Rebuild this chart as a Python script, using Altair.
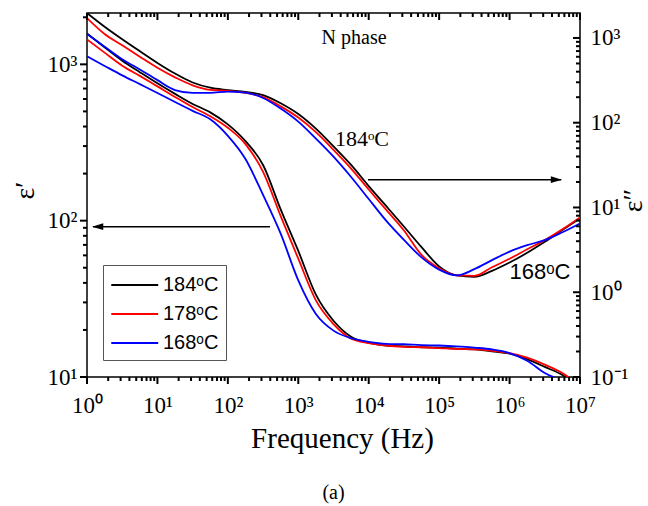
import altair as alt
import pandas as pd

# Sample frequencies, as log10(f / Hz)
log_freq = [0.0, 0.25, 0.5, 0.75, 1.0, 1.25, 1.5, 1.75, 2.0, 2.25, 2.5, 2.75, 3.0, 3.25,
            3.5, 3.75, 4.0, 4.25, 4.5, 4.75, 5.0, 5.25, 5.5, 5.75, 6.0, 6.25, 6.5, 6.75, 7.0]

temps = ["184ᵒC", "178ᵒC", "168ᵒC"]
colors = ["#000000", "#ff0000", "#0000ff"]

# Real part of the permittivity (left axis)
eps1_184 = [1575, 1285, 1054, 891, 756, 647, 558, 493, 413, 323, 227, 118, 64, 33.6, 22.9,
            18.1, 16.6, 15.9, 15.7, 15.5, 15.4, 15.2, 15.0, 14.6, 14.1, 13.0, 11.6, 10.3, 8.5]
eps1_178 = [1443, 1188, 981, 844, 723, 619, 533, 466, 393, 309, 205, 107, 57.1, 30.9, 21.8,
            17.6, 16.5, 15.9, 15.6, 15.5, 15.3, 15.1, 15.0, 14.7, 14.2, 13.3, 12.0, 10.6, 8.8]
eps1_168 = [1125, 977, 850, 747, 656, 574, 504, 445, 349, 248, 146, 82.6, 41.5, 25.3, 19.8,
            17.7, 16.8, 16.3, 16.2, 16.0, 15.9, 15.7, 15.4, 15.0, 14.2, 12.7, 10.6, 9.4, 8.0]

# Imaginary part of the permittivity (right axis)
eps2_184 = [1968, 1358, 966, 698, 508, 380, 298, 259, 243, 231, 212, 170, 127, 85.3, 52.6,
            31.8, 17.9, 10.35, 5.96, 3.40, 2.02, 1.58, 1.52, 1.79, 2.24, 2.92, 3.94, 5.41, 7.43]
eps2_178 = [1718, 1114, 818, 601, 445, 343, 276, 244, 238, 225, 200, 156, 115, 77.3, 47.9,
            28.8, 16.3, 9.35, 5.36, 2.76, 1.92, 1.58, 1.56, 1.97, 2.48, 3.21, 4.12, 5.52, 7.63]
eps2_168 = [1114, 788, 561, 425, 318, 243, 225, 225, 233, 227, 196, 147, 103, 65, 39.8,
            22.9, 12.6, 6.95, 4.15, 2.58, 1.85, 1.58, 1.87, 2.39, 3.02, 3.59, 4.13, 5.11, 6.48]

SERIF = "Liberation Serif"
SANS = "Liberation Sans"

rows = []
for t, e1, e2 in zip(temps, [eps1_184, eps1_178, eps1_168], [eps2_184, eps2_178, eps2_168]):
    for i, lf in enumerate(log_freq):
        rows.append({"freq": 10 ** lf, "temp": t, "order": temps.index(t), "eps1": e1[i], "eps2": e2[i]})
df = pd.DataFrame(rows)

# Axis ranges
X_MIN, X_MAX = 1, 1e7
Y1_MIN, Y1_MAX = 10, 2130
Y2_MIN, Y2_MAX = 0.1, 1970

# Tick positions
x_major = [10 ** k for k in range(0, 8)]
x_minor = [m * 10 ** k for k in range(0, 7) for m in range(2, 10)]
y1_major = [10, 100, 1000]
y1_minor = [m * 10 ** k for k in (1, 2, 3) for m in range(2, 10) if m * 10 ** k <= Y1_MAX]
y2_major = [0.1, 1, 10, 100, 1000]
y2_minor = [round(m * 10.0 ** k, 6) for k in (-1, 0, 1, 2, 3) for m in range(2, 10) if m * 10.0 ** k <= Y2_MAX]

label_expr = "'10' + ['⁻¹','⁰','¹','²','³','⁴','⁵','⁶','⁷'][round(log(datum.value)/LN10)+1]"

xs = alt.Scale(type="log", domain=[X_MIN, X_MAX], nice=False)
y1s = alt.Scale(type="log", domain=[Y1_MIN, Y1_MAX], nice=False)
y2s = alt.Scale(type="log", domain=[Y2_MIN, Y2_MAX], nice=False)

W, H = 493, 364
# symbol area giving a tick of 7 px (major) or 4 px (minor)
MAJ_SIZE, MIN_SIZE = (2 * 7) ** 2, (2 * 4) ** 2

color = alt.Color(
    "temp:N",
    scale=alt.Scale(domain=temps, range=colors),
    legend=alt.Legend(
        title=None, orient="none", legendX=16, legendY=252,
        symbolType="M-1,0H3", symbolSize=550, symbolStrokeWidth=2,
        labelFont=SANS, labelFontSize=20, labelColor="black", labelOffset=27,
        strokeColor="#555555", fillColor="white", padding=7, rowPadding=6,
        cornerRadius=0,
    ),
)

line_style = dict(strokeWidth=1.8, clip=True, interpolate="monotone")
axis_style = dict(domain=False, tickColor="transparent", grid=False)

# Real part, with the labelled bottom and left axes
eps1_lines = alt.Chart(df).mark_line(**line_style).encode(
    x=alt.X("freq:Q", scale=xs, axis=alt.Axis(
        orient="bottom", values=x_major, tickSize=7, labelExpr=label_expr,
        labelFontSize=23, labelPadding=10, labelFlush=False, labelOverlap=False,
        title="Frequency (Hz)", titleFontSize=29, titleX=255, titleY=70,
        titleBaseline="alphabetic", titleAlign="center", **axis_style)),
    y=alt.Y("eps1:Q", scale=y1s, axis=alt.Axis(
        orient="left", values=y1_major, tickSize=7, labelExpr=label_expr,
        labelFontSize=23, labelPadding=3, labelFlush=False, labelOverlap=False,
        title="ε′", titleFontSize=28, titleAngle=270, titleX=-62, titleY=177,
        titleAlign="center", titleBaseline="middle", **axis_style)),
    color=color,
    order="order:Q",
)

# Imaginary part, with the labelled right axis
eps2_lines = alt.Chart(df).mark_line(**line_style).encode(
    x=alt.X("freq:Q", scale=xs, axis=None),
    y=alt.Y("eps2:Q", scale=y2s, axis=alt.Axis(
        orient="right", values=y2_major, tickSize=7, offset=-7, labelExpr=label_expr,
        labelFontSize=23, labelPadding=10, labelFlush=False, labelOverlap=False,
        title="ε″", titleFontSize=28, titleAngle=270, titleX=60, titleY=187,
        titleAlign="center", titleBaseline="middle", **axis_style)),
    color=alt.Color("temp:N", scale=alt.Scale(domain=temps, range=colors), legend=None),
    order="order:Q",
)


# Tick marks drawn as short stroked symbols anchored on the frame:
# outward on bottom/left, inward on top/right
def tick_table(major, minor, edge):
    vals = list(major) + list(minor)
    sizes = [MAJ_SIZE] * len(major) + [MIN_SIZE] * len(minor)
    return pd.DataFrame({"v": vals, "edge": [edge] * len(vals), "s": sizes})


xt_bottom = tick_table(x_major, x_minor, Y1_MIN)
xt_top = tick_table(x_major, x_minor, Y1_MAX)
yt_left = tick_table(y1_major, y1_minor, X_MIN)
yt_right = tick_table(y2_major, y2_minor, X_MAX)

DOWN = "M0,0L0,1"
LEFT = "M0,0L-1,0"
tick_mark = dict(filled=False, color="black", strokeWidth=2, opacity=1)

ticks_bottom = alt.Chart(xt_bottom).mark_point(shape=DOWN, **tick_mark).encode(
    x=alt.X("v:Q", scale=xs, axis=None),
    y=alt.Y("edge:Q", scale=y1s, axis=None),
    size=alt.Size("s:Q", scale=None, legend=None),
)
ticks_top = alt.Chart(xt_top).mark_point(shape=DOWN, **tick_mark).encode(
    x=alt.X("v:Q", scale=xs, axis=None),
    y=alt.Y("edge:Q", scale=y1s, axis=None),
    size=alt.Size("s:Q", scale=None, legend=None),
)
ticks_left = alt.Chart(yt_left).mark_point(shape=LEFT, **tick_mark).encode(
    x=alt.X("edge:Q", scale=xs, axis=None),
    y=alt.Y("v:Q", scale=y1s, axis=None),
    size=alt.Size("s:Q", scale=None, legend=None),
)
ticks_right = alt.Chart(yt_right).mark_point(shape=LEFT, **tick_mark).encode(
    x=alt.X("edge:Q", scale=xs, axis=None),
    y=alt.Y("v:Q", scale=y2s, axis=None),
    size=alt.Size("s:Q", scale=None, legend=None),
)

# Annotations
notes_left = pd.DataFrame({"freq": [6200], "val": [1466], "text": ["N phase"]})
note_phase = alt.Chart(notes_left).mark_text(font=SERIF, fontSize=20, color="black").encode(
    x=alt.X("freq:Q", scale=xs, axis=None),
    y=alt.Y("val:Q", scale=y1s, axis=None),
    text="text:N",
)

notes_serif = pd.DataFrame({"freq": [8030], "val": [64.9], "text": ["184ᵒC"]})
note_184 = alt.Chart(notes_serif).mark_text(font=SERIF, fontSize=22, color="black").encode(
    x=alt.X("freq:Q", scale=xs, axis=None),
    y=alt.Y("val:Q", scale=y2s, axis=None),
    text="text:N",
)

notes_sans = pd.DataFrame({"freq": [2.7e6], "val": [1.72], "text": ["168ᵒC"]})
note_168 = alt.Chart(notes_sans).mark_text(font=SANS, fontSize=22, color="black").encode(
    x=alt.X("freq:Q", scale=xs, axis=None),
    y=alt.Y("val:Q", scale=y2s, axis=None),
    text="text:N",
)

# Arrows pointing to the axis each family belongs to
arrow_l = pd.DataFrame({"x1": [1.22], "x2": [396], "tip": [1.18], "val": [91.6]})
arrow_r = pd.DataFrame({"x1": [9770], "x2": [5.4e6], "tip": [5.55e6], "val": [21.3]})

shaft_l = alt.Chart(arrow_l).mark_rule(color="black", strokeWidth=1.5).encode(
    x=alt.X("x1:Q", scale=xs, axis=None), x2="x2:Q",
    y=alt.Y("val:Q", scale=y1s, axis=None),
)
head_l = alt.Chart(arrow_l).mark_point(
    shape="M0,0L1,-0.3L1,0.3Z", filled=True, size=500, color="black", opacity=1, strokeWidth=0
).encode(
    x=alt.X("tip:Q", scale=xs, axis=None),
    y=alt.Y("val:Q", scale=y1s, axis=None),
)
shaft_r = alt.Chart(arrow_r).mark_rule(color="black", strokeWidth=1.5).encode(
    x=alt.X("x1:Q", scale=xs, axis=None), x2="x2:Q",
    y=alt.Y("val:Q", scale=y2s, axis=None),
)
head_r = alt.Chart(arrow_r).mark_point(
    shape="M0,0L-1,-0.3L-1,0.3Z", filled=True, size=500, color="black", opacity=1, strokeWidth=0
).encode(
    x=alt.X("tip:Q", scale=xs, axis=None),
    y=alt.Y("val:Q", scale=y2s, axis=None),
)

chart = alt.layer(
    eps1_lines, eps2_lines,
    note_phase, note_184, note_168, shaft_l, head_l, shaft_r, head_r,
    ticks_bottom, ticks_top, ticks_left, ticks_right,
).resolve_scale(
    y="independent"
).resolve_axis(
    x="independent", y="independent"
).properties(
    width=W, height=H,
    autosize=alt.AutoSizeParams(type="none"),
    padding={"left": 87, "top": 13, "right": 68, "bottom": 129},
    title=alt.TitleParams("(a)", orient="bottom", font=SERIF, fontSize=20,
                          fontWeight="normal", color="black", offset=30),
).configure_view(
    stroke="black", strokeWidth=1.5
).configure_axis(
    labelColor="black", titleColor="black", labelFont=SERIF, titleFont=SERIF,
    titleFontWeight="normal",
)

chart.save("out.html", embed_options={"renderer": "svg", "actions": False})
